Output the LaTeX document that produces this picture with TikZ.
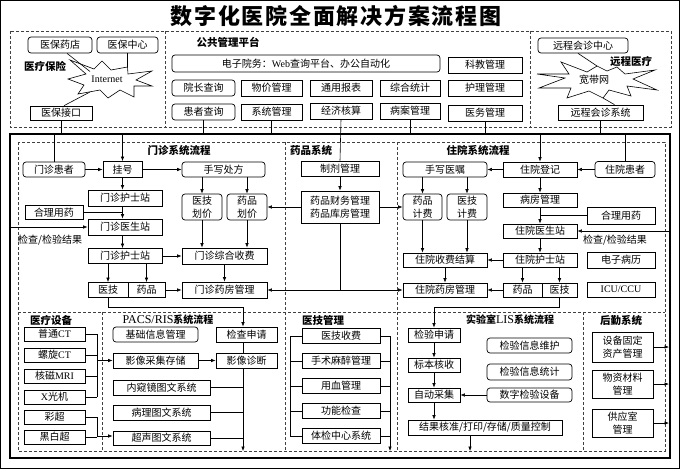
\documentclass[tikz,border=0pt]{standalone}
\usepackage{fontspec}
\setmainfont{Liberation Serif}
\newfontfamily\cjk{Noto Sans CJK SC}
\usetikzlibrary{arrows.meta}
\begin{document}
\begin{tikzpicture}[x=1pt,y=-1pt,
  bx/.style={draw, line width=0.7pt, inner sep=0pt, fill=white, align=center, font=\cjk\fontsize{10}{12.5}\selectfont},
  rbx/.style={bx, rounded corners=3pt},
  lab/.style={font=\cjk\bfseries\fontsize{10.5}{11}\selectfont, inner sep=0pt},
  txt/.style={font=\cjk\fontsize{10}{12}\selectfont, inner sep=0pt},
  dsh/.style={dash pattern=on 3pt off 2pt, line width=0.6pt, black!75},
  ln/.style={line width=0.6pt},
  arr/.style={ln, -{Latex[length=4.5pt,width=3.5pt]}},
]
\useasboundingbox (0,0) rectangle (680,469);
\draw[line width=0.8pt] (0.5,0.5) rectangle (679.5,468.5);

% title
\node[inner sep=0pt, font=\cjk\bfseries\fontsize{22}{24}\selectfont\addfontfeature{LetterSpace=8}] (title) at (336,16) {数字化医院全面解决方案流程图};

% helper coordinates
\coordinate (ftop) at (0,134);
\coordinate (fleft) at (10,0);
\coordinate (fright) at (670,0);
\coordinate (fr2) at (669,0);
\coordinate (dbot) at (0,451);
\coordinate (b97) at (97,0);
\coordinate (b290) at (290,0);
\coordinate (b390) at (390,0);

% top dashed areas
\draw[dsh] (10,31) rectangle (671,127);
\draw[dsh] (165,31) -- (165,127);
\draw[dsh] (530,31) -- (530,127);

% ---- medical insurance
\node[rbx, minimum width=64pt, minimum height=16pt] (ybyd) at (60,45) {医保药店};
\node[rbx, minimum width=61pt, minimum height=16pt] (ybzx) at (127.5,45) {医保中心};
\node[lab] (ylbx) at (45,66) {医疗保险};
\node[bx, minimum width=62pt, minimum height=14pt] (ybjk) at (61,113) {医保接口};
\draw[ln, fill=white, shift={(108,80)}] (-40,-1) -- (-22,-6) -- (-38,-20) -- (-14,-11) -- (-6,-19) -- (3,-10) -- (19.5,-13) -- (20,-6) -- (44,-9) -- (28,0) -- (44,6) -- (26,6) -- (26,17) -- (12,10) -- (0,18) -- (-8,10) -- (-30,14) -- (-24,5) -- cycle;
\node[inner sep=0pt, font=\fontsize{10}{12}\selectfont] (inet) at (107,79) {Internet};
\coordinate (i1) at (90,71.5);
\coordinate (i2) at (127.5,67);
\coordinate (i3) at (90,92);
\draw[ln] ([xshift=7pt]ybyd.south) -- (i1);
\draw[ln] (ybzx.south) -- (i2);
\draw[ln] ([xshift=3pt]ybjk.north) -- (i3);
\draw[ln] (ybjk.south) -- (ybjk.south |- ftop);

% ---- public management platform
\node[lab] (ggpt) at (228,42) {公共管理平台};
\node[rbx, minimum width=268pt, minimum height=17pt] (dzyw) at (306,63.5) {电子院务：\rmfamily Web\cjk 查询平台、办公自动化};
\node[bx, minimum width=74pt, minimum height=16pt] (kjgl) at (485,65) {科教管理};
\node[rbx, minimum width=63pt, minimum height=16pt] (yzcx) at (203.5,88) {院长查询};
\node[bx, minimum width=61pt, minimum height=16pt] (wjgl) at (271.5,88) {物价管理};
\node[bx, minimum width=62pt, minimum height=16pt] (tybb) at (341,88) {通用报表};
\node[bx, minimum width=60pt, minimum height=16pt] (zhtj) at (410,88) {综合统计};
\node[bx, minimum width=74pt, minimum height=16pt] (hlgl) at (485,88) {护理管理};
\node[rbx, minimum width=63pt, minimum height=16pt] (hzcx) at (203.5,112) {患者查询};
\node[bx, minimum width=61pt, minimum height=16pt] (xtgl) at (271.5,112) {系统管理};
\node[bx, minimum width=62pt, minimum height=16pt] (jjhs) at (341,111) {经济核算};
\node[bx, minimum width=60pt, minimum height=16pt] (bagl) at (410,111) {病案管理};
\node[bx, minimum width=74pt, minimum height=16pt] (ywgl) at (485,113) {医务管理};
\foreach \nn in {hzcx,xtgl,bagl,ywgl} \draw[ln] (\nn.south) -- (\nn.south |- ftop);

% ---- telemedicine
\node[rbx, minimum width=90pt, minimum height=15pt] (ychzx) at (583,45.5) {远程会诊中心};
\draw[ln, fill=white, shift={(597,80)}] (-60,-6) -- (-32,-2) -- (-58,8) -- (-26,8) -- (-30,18) -- (-8,11) -- (6,18) -- (12,10) -- (34,16) -- (30,6) -- (60,10) -- (36,-1) -- (58,-10) -- (28,-6) -- (20,-13) -- (10,-9) -- (0,-14) -- (-10,-8) -- (-36,-18) -- (-28,-6) -- cycle;
\node[inner sep=0pt, font=\cjk\fontsize{10}{12}\selectfont] (kdw) at (594,80) {宽带网};
\node[lab] (ycyl) at (631,61) {远程医疗};
\node[bx, minimum width=85pt, minimum height=15pt] (ychxt) at (600.5,112.5) {远程会诊系统};
\coordinate (k1) at (597,66);
\coordinate (k2) at (603,98);
\draw[ln] ([xshift=-5pt]ychzx.south) -- (k1);
\draw[ln] ([xshift=14pt]ychxt.north) -- (k2);
\draw[ln] (ychxt.south) -- (ychxt.south |- ftop);

% ---- main frame and sections
\draw[line width=1.6pt] (10,134) rectangle (670,458);
\draw[dsh] (18,142) rectangle (665,451);
\draw[dsh] (18,312) -- (665,312);
\draw[dsh] (285,142) -- (285,451);
\draw[dsh] (397,142) -- (397,451);
\draw[dsh] (102,312) -- (102,451);
\draw[dsh] (583,312) -- (583,451);

\node[lab] at (179,150) {门诊系统流程};
\node[lab] at (311,150) {药品系统};
\node[lab] at (478,150) {住院系统流程};
\node[lab] at (51,320) {医疗设备};
\node[inner sep=0pt] at (168,320) {\fontsize{12}{12}\selectfont PACS/RIS\cjk\bfseries\fontsize{10}{11}\selectfont 系统流程};
\node[lab] at (323,320) {医技管理};
\node[inner sep=0pt] at (510,320) {\cjk\bfseries\fontsize{10}{11}\selectfont 实验室\rmfamily\mdseries\fontsize{12}{12}\selectfont LIS\cjk\bfseries\fontsize{10}{11}\selectfont 系统流程};
\node[lab] at (621,320) {后勤系统};

% ---- outpatient
\node[rbx, minimum width=62pt, minimum height=15pt] (mzhz) at (54,169.5) {门诊患者};
\node[bx, minimum width=39pt, minimum height=16pt] (gh) at (122.5,169.5) {挂号};
\node[rbx, minimum width=83pt, minimum height=15pt] (sxcf) at (223.5,169.5) {手写处方};
\node[bx, minimum width=74pt, minimum height=16pt] (mzhs1) at (125,198) {门诊护士站};
\node[bx, minimum width=58pt, minimum height=14pt] (hlyy1) at (54,212.5) {合理用药};
\node[bx, minimum width=74pt, minimum height=16pt] (mzys) at (125,227) {门诊医生站};
\node[txt, anchor=west] (jcjg1) at (18,240) {检查/检验结果};
\node[rbx, minimum width=40pt, minimum height=26pt] (yjhj) at (202,207) {医技\\划价};
\node[rbx, minimum width=40pt, minimum height=26pt] (ypjh) at (247,207) {药品\\划价};
\node[bx, minimum width=74pt, minimum height=15pt] (mzhs2) at (125,256) {门诊护士站};
\node[bx, minimum width=85pt, minimum height=16pt] (mzzhsf) at (224.5,256) {门诊综合收费};
\node[bx, minimum width=40pt, minimum height=15pt] (mzyj) at (108,290) {医技};
\node[bx, minimum width=37pt, minimum height=15pt] (mzyp) at (146.5,290) {药品};
\node[bx, minimum width=85pt, minimum height=16pt] (mzyf) at (224.5,290) {门诊药房管理};

\draw[ln] (mzhz.north) -- (mzhz.north |- ftop);
\draw[arr] (gh.north |- ftop) -- (gh.north);
\draw[arr] (mzhz) -- (gh);
\draw[arr] (gh) -- (sxcf);
\draw[arr] (gh.south) -- (gh.south |- mzhs1.north);
\draw[arr] (gh.south |- mzhs1.south) -- (gh.south |- mzys.north);
\draw[ln] (hlyy1.east) -- (hlyy1.east -| gh.south);
\draw[arr] (mzys.west -| fleft) -- (mzys.west);
\draw[arr] (gh.south |- mzys.south) -- (gh.south |- mzhs2.north);
\draw[arr] (mzhs2) -- (mzzhsf);
\draw[arr] (mzhs2.south -| mzyj) -- (mzyj.north);
\draw[arr] (mzhs2.south -| mzyp) -- (mzyp.north);
\draw[arr] (mzyp) -- (mzyf);
\draw[arr] (sxcf.south -| yjhj) -- (yjhj.north);
\draw[arr] (sxcf.south -| ypjh) -- (ypjh.north);
\draw[arr] (yjhj.south) -- (yjhj.south |- mzzhsf.north);
\draw[arr] (ypjh.south) -- (ypjh.south |- mzzhsf.north);
\draw[arr] (mzzhsf.south) -- (mzyf.north);

% ---- pharmacy
\node[bx, minimum width=78pt, minimum height=15pt] (zjgl) at (340,168.5) {制剂管理};
\node[bx, minimum width=78pt, minimum height=32pt] (ypcw) at (340,207) {药品财务管理\\药品库房管理};
\draw[ln] (jjhs.south) -- (zjgl.north);
\draw[arr] (zjgl) -- (ypcw);
\coordinate (yb) at (340,290);
\draw[arr] (ypcw.west) -- (ypjh.east);
\draw[ln] (ypcw.south) -- (yb);
\draw[arr] (yb) -- (mzyf.east);

% ---- inpatient
\node[bx, minimum width=74pt, minimum height=15pt] (zydj) at (540,169.5) {住院登记};
\node[rbx, minimum width=60pt, minimum height=16pt] (zyhz) at (625,169.5) {住院患者};
\node[rbx, minimum width=84pt, minimum height=15pt] (sxyz) at (445,169.5) {手写医嘱};
\node[bx, minimum width=74pt, minimum height=14pt] (bfgl) at (540,200) {病房管理};
\node[bx, minimum width=68pt, minimum height=17pt] (hlyy2) at (621,215.5) {合理用药};
\node[bx, minimum width=74pt, minimum height=14pt] (zyys) at (540,231) {住院医生站};
\node[txt] (jcjg2) at (615,240) {检查/检验结果};
\node[rbx, minimum width=39pt, minimum height=26pt] (ypjf) at (422.5,207) {药品\\计费};
\node[rbx, minimum width=40pt, minimum height=26pt] (yjjf) at (467,207) {医技\\计费};
\node[bx, minimum width=84pt, minimum height=14pt] (zysf) at (445,260) {住院收费结算};
\node[bx, minimum width=74pt, minimum height=14pt] (zyhs) at (540,260) {住院护士站};
\node[bx, minimum width=68pt, minimum height=16pt] (dzbl) at (621,260) {电子病历};
\node[bx, minimum width=84pt, minimum height=14pt] (zyyf) at (445,290) {住院药房管理};
\node[bx, minimum width=39pt, minimum height=14pt] (zyyp) at (522.5,290) {药品};
\node[bx, minimum width=35pt, minimum height=14pt] (zyyj) at (559.5,290) {医技};
\node[bx, minimum width=68pt, minimum height=15pt] (icu) at (621,289.5) {\rmfamily ICU/CCU};

\draw[arr] (ypcw.east) -- (ypjf.west);
\draw[arr] (yb) -- (zyyf.west);
\draw[ln] (zyhz.north) -- (zyhz.north |- ftop);
\draw[arr] (zydj.north |- ftop) -- (zydj.north);
\draw[arr] (zyhz) -- (zydj);
\draw[arr] (zydj) -- (sxyz);
\draw[arr] (zydj) -- (bfgl);
\draw[arr] (bfgl) -- (zyys);
\draw[ln] (hlyy2.west) -- (hlyy2.west -| zydj.south);
\draw[arr] (zyys.east -| fright) -- (zyys.east);
\draw[arr] (zyys) -- (zyhs);
\draw[arr] (zyhs) -- (zysf);
\draw[arr] (zyhs.south -| zyyp) -- (zyyp.north);
\draw[arr] (zyhs.south -| zyyj) -- (zyyj.north);
\draw[arr] (zyyp) -- (zyyf);
\draw[arr] (sxyz.south -| ypjf) -- (ypjf.north);
\draw[arr] (sxyz.south -| yjjf) -- (yjjf.north);
\draw[arr] (ypjf.south) -- (ypjf.south |- zysf.north);
\draw[arr] (yjjf.south) -- (yjjf.south |- zysf.north);
\draw[arr] (zysf) -- (zyyf);

% ---- medical equipment
\node[bx, minimum width=61pt, minimum height=14pt] (ptct) at (54.5,334) {普通\rmfamily CT};
\node[bx, minimum width=61pt, minimum height=14pt] (lxct) at (54.5,355) {螺旋\rmfamily CT};
\node[bx, minimum width=61pt, minimum height=14pt] (hcmri) at (54.5,376) {核磁\rmfamily MRI};
\node[bx, minimum width=61pt, minimum height=14pt] (xgj) at (54.5,397) {\rmfamily X\cjk 光机};
\node[bx, minimum width=61pt, minimum height=14pt] (cc) at (54.5,417) {彩超};
\node[bx, minimum width=61pt, minimum height=14pt] (hbc) at (54.5,437) {黑白超};

% ---- PACS/RIS
\node[rbx, minimum width=85pt, minimum height=15pt] (jcxx) at (155.5,334.5) {基础信息管理};
\node[bx, minimum width=61pt, minimum height=15pt] (jcsq) at (246.5,334.5) {检查申请};
\node[bx, minimum width=85pt, minimum height=15pt] (yxcj) at (155.5,360.5) {影像采集存储};
\node[bx, minimum width=61pt, minimum height=15pt] (yxzd) at (246.5,360.5) {影像诊断};
\node[bx, minimum width=97pt, minimum height=15pt] (nkj) at (161.5,387.5) {内窥镜图文系统};
\node[bx, minimum width=97pt, minimum height=15pt] (bltw) at (161.5,412.5) {病理图文系统};
\node[bx, minimum width=97pt, minimum height=14pt] (cstw) at (161.5,438) {超声图文系统};

\foreach \nn in {ptct,lxct,hcmri,xgj,cc,hbc} \draw[ln] (\nn.east) -- (\nn.east -| b97);
\draw[ln] (ptct.east -| b97) -- (xgj.east -| b97);
\draw[ln] (cc.east -| b97) -- (hbc.east -| b97);
\draw[arr] (yxcj.west -| b97) -- (yxcj.west);
\coordinate (cs) at (97,436);
\draw[arr] (cs) -- (cs -| cstw.west);

\coordinate (pj) at (243,307);
\draw[ln] (mzyj.south) |- (pj);
\draw[arr] (pj) -- (pj |- jcsq.north);
\draw[ln] (pj |- jcsq.south) -- (pj |- yxzd.north);
\draw[arr] (pj |- yxzd.south) -- (pj |- dbot);
\foreach \nn in {nkj,bltw,cstw} \draw[ln] (\nn.east) -- (\nn.east -| pj);
\draw[arr] (yxcj) -- (yxzd);

% ---- medical technology management
\node[bx, minimum width=78pt, minimum height=15pt] (yjsf) at (341,336) {医技收费};
\node[bx, minimum width=78pt, minimum height=15pt] (ssmz) at (341,361) {手术麻醉管理};
\node[bx, minimum width=78pt, minimum height=15pt] (yxgl) at (341,386) {用血管理};
\node[bx, minimum width=78pt, minimum height=15pt] (gnjc) at (341,411) {功能检查};
\node[bx, minimum width=78pt, minimum height=15pt] (tjzx) at (341,436) {体检中心系统};
\draw[ln] (yjsf.west -| b290) -- (tjzx.west -| b290);
\draw[arr] (yjsf.east -| b390) -- (b390 |- dbot);
\foreach \nn in {yjsf,ssmz,yxgl,gnjc,tjzx} {
  \draw[ln] (\nn.west -| b290) -- (\nn.west);
  \draw[ln] (\nn.east) -- (\nn.east -| b390);
}

% ---- LIS
\node[bx, minimum width=52pt, minimum height=14pt] (jysq) at (434,335) {检验申请};
\node[bx, minimum width=52pt, minimum height=14pt] (bbhs) at (434,365) {标本核收};
\node[bx, minimum width=52pt, minimum height=14pt] (zdcj) at (434,395) {自动采集};
\node[bx, minimum width=154pt, minimum height=15pt] (jghz) at (485,427.5) {结果核准/打印/存储/质量控制};
\node[rbx, minimum width=85pt, minimum height=15pt] (jywh) at (529.5,345.5) {检验信息维护};
\node[rbx, minimum width=85pt, minimum height=16pt] (jytj) at (529.5,372) {检验信息统计};
\node[rbx, minimum width=85pt, minimum height=14pt] (szjy) at (529.5,395) {数字检验设备};
\coordinate (lj) at (434,307);
\draw[ln] (zyyj.south) |- (lj);
\draw[arr] (lj) -- (jysq.north);
\draw[arr] (jysq) -- (bbhs);
\draw[arr] (bbhs) -- (zdcj);
\draw[arr] (zdcj.south) -- (zdcj.south |- jghz.north);
\draw[arr] (szjy) -- (zdcj);
\coordinate (jb) at (470,0);
\draw[arr] (jghz.south -| jb) -- (jb |- dbot);

% ---- logistics
\node[bx, minimum width=61pt, minimum height=30pt] (sbgd) at (622.5,347) {设备固定\\资产管理};
\node[bx, minimum width=61pt, minimum height=28pt] (wzcl) at (622.5,384) {物资材料\\管理};
\node[bx, minimum width=61pt, minimum height=28pt] (gysgl) at (622.5,423) {供应室\\管理};
\foreach \nn in {sbgd,wzcl,gysgl} \draw[arr] (\nn.east) -- (\nn.east -| fr2);
\end{tikzpicture}
\end{document}
